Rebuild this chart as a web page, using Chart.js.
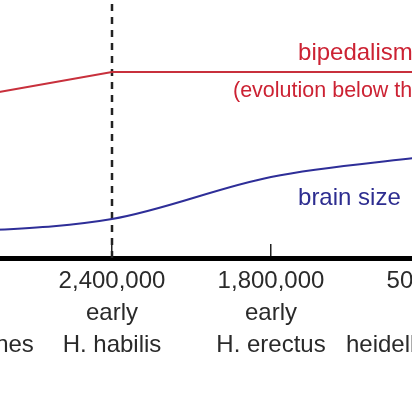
<!DOCTYPE html>
<html>
<head>
<meta charset="utf-8">
<script src="https://cdn.jsdelivr.net/npm/chart.js@4/dist/chart.umd.min.js"></script>
<style>
  html, body { margin: 0; padding: 0; background: #fff; overflow: hidden; width: 412px; height: 412px; }
  #wrap { position: absolute; left: -206px; top: 0; width: 795px; height: 412px; }
</style>
</head>
<body>
<div id="wrap"><canvas id="c"></canvas></div>
<script>
// ---- data ----
const stageX = [-0.1, 1, 2, 3];
const tickYears = ["", "2,400,000", "1,800,000", "500,000"];
const tickLine2 = ["", "early", "early", "H."];
const tickLine3 = ["australopithecines", "H. habilis", "H. erectus", "heidelbergensis"];
const bipedalism = [60.1, 72.1, 72.1, 72.1];
const brainSize = [9.5, 15.1, 31.4, 39.5];
const habilisMarker = [0, 100];

const FONT = "'Liberation Sans', Arial, sans-serif";

const annotations = [
  { text: "bipedalism", x: 2.170, y: 76.7, color: "#cc2233", size: 24 },
  { text: "(evolution below the line)", x: 1.761, y: 62.4, color: "#cc2233", size: 21.5 },
  { text: "brain size", x: 2.170, y: 20.5, color: "#2d2d90", size: 24 }
];

const textPlugin = {
  id: 'texts',
  afterDatasetsDraw(chart) {
    const ctx = chart.ctx, xs = chart.scales.x, ys = chart.scales.y;
    ctx.save();
    ctx.textAlign = 'left';
    ctx.textBaseline = 'alphabetic';
    annotations.forEach(a => {
      ctx.font = a.size + "px " + FONT;
      ctx.fillStyle = a.color;
      ctx.fillText(a.text, xs.getPixelForValue(a.x), ys.getPixelForValue(a.y));
    });
    ctx.restore();
  }
};

new Chart(document.getElementById('c'), {
  type: 'line',
  data: {
    datasets: [
      {
        data: stageX.map((x, i) => ({ x, y: bipedalism[i] })),
        borderColor: '#c8303c', borderWidth: 2, pointRadius: 0, tension: 0
      },
      {
        data: stageX.map((x, i) => ({ x, y: brainSize[i] })),
        borderColor: '#2e2e98', borderWidth: 2, pointRadius: 0, cubicInterpolationMode: 'monotone'
      },
      {
        data: habilisMarker.map(y => ({ x: stageX[1], y })),
        borderColor: '#222', borderWidth: 2.5, borderDash: [7, 6], pointRadius: 0
      }
    ]
  },
  options: {
    responsive: true,
    maintainAspectRatio: false,
    animation: false,
    events: [],
    layout: { padding: 0 },
    plugins: { legend: { display: false }, tooltip: { enabled: false }, title: { display: false } },
    scales: {
      x: {
        type: 'linear', min: -1, max: 4, offset: false,
        afterBuildTicks: s => { s.ticks = stageX.map(v => ({ value: v })); },
        afterFit: s => { s.height = 154; },
        grid: { display: true, drawOnChartArea: false, drawTicks: true, tickLength: -14, color: '#222', lineWidth: 1.5 },
        border: { display: true, color: '#000', width: 5 },
        ticks: {
          autoSkip: false, maxRotation: 0, padding: 21, color: '#2a2a2a',
          font: { family: FONT, size: 24, lineHeight: 1.3333 },
          callback: (v) => {
            const i = stageX.indexOf(v);
            return i < 0 ? '' : [tickYears[i], tickLine2[i], tickLine3[i]];
          }
        }
      },
      y: { display: false, min: 0, max: 100 }
    }
  },
  plugins: [textPlugin]
});
</script>
</body>
</html>
